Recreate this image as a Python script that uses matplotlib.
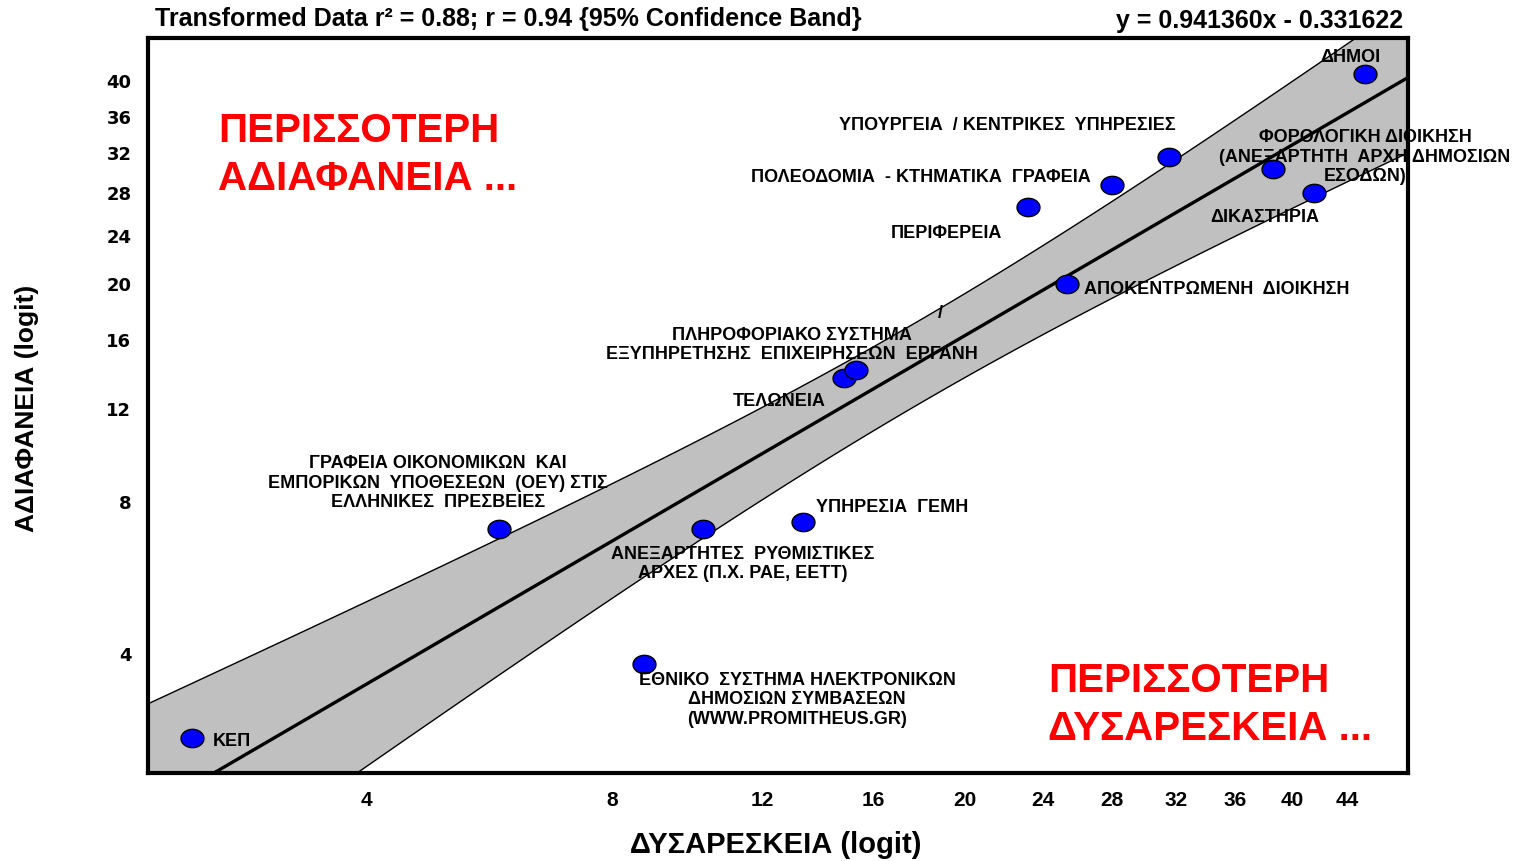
import numpy as np
import matplotlib
matplotlib.use("Agg")
import matplotlib.pyplot as plt
from matplotlib.path import Path
from matplotlib.ticker import FixedLocator, FixedFormatter, NullLocator
from matplotlib import font_manager as fm

# ---------------- data (percent) ----------------
labels = ["ΚΕΠ", "ΟΕΥ", "ΕΣΗΔΗΣ", "ΑΝΕΞ. ΑΡΧΕΣ", "ΓΕΜΗ", "ΤΕΛΩΝΕΙΑ", "ΕΡΓΑΝΗ",
          "ΠΕΡΙΦΕΡΕΙΑ", "ΑΠΟΚΕΝΤΡΩΜΕΝΗ", "ΠΟΛΕΟΔΟΜΙΑ", "ΥΠΟΥΡΓΕΙΑ",
          "ΦΟΡΟΛΟΓΙΚΗ", "ΔΙΚΑΣΤΗΡΙΑ", "ΔΗΜΟΙ"]
dissatisfaction_pct = [2.41, 5.83, 8.74, 10.26, 13.35, 14.84, 15.30,
                       23.22, 25.37, 28.00, 31.56, 38.65, 41.58, 45.34]
opacity_pct = [2.70, 7.09, 3.82, 7.09, 7.32, 13.69, 14.15,
               26.64, 20.00, 28.76, 31.63, 30.39, 27.97, 40.88]
x_tick_pct = [4, 8, 12, 16, 20, 24, 28, 32, 36, 40, 44]
y_tick_pct = [4, 8, 12, 16, 20, 24, 28, 32, 36, 40]
slope = 0.941360
intercept = -0.331622
r_squared = 0.88
r_value = 0.94
t_crit = 2.179  # t(0.975, df = n - 2 = 12)

# ---------------- fonts ----------------
def has_font(name):
    try:
        fm.findfont(fm.FontProperties(family=name), fallback_to_default=False)
        return True
    except Exception:
        return False

NARROW = "Liberation Sans Narrow" if has_font("Liberation Sans Narrow") else "Liberation Sans"
SANS = "Liberation Sans"

plt.rcParams["font.family"] = [SANS, "DejaVu Sans"]

W, H = 1524, 861
fig = plt.figure(figsize=(W / 100, H / 100), dpi=100)
ax = fig.add_axes([148 / W, 1 - 773 / H, (1408 - 148) / W, (773 - 38) / H])

x = np.array(dissatisfaction_pct) / 100.0
y = np.array(opacity_pct) / 100.0

def logit(p):
    return np.log(p / (1 - p))

def expit(z):
    return 1 / (1 + np.exp(-z))

xlim = (0.0212, 0.4855)
ylim = (0.0229, 0.4514)

# regression line and 95% confidence band (in logit space)
lx = logit(x)
ly = logit(y)
n = len(lx)
resid = ly - (slope * lx + intercept)
s = np.sqrt(np.sum(resid ** 2) / (n - 2))
xbar = lx.mean()
sxx = np.sum((lx - xbar) ** 2)

gx = np.linspace(logit(xlim[0]) - 0.2, logit(xlim[1]) + 0.2, 400)
gy = slope * gx + intercept
half = t_crit * s * np.sqrt(1 / n + (gx - xbar) ** 2 / sxx)

ax.set_xscale("logit")
ax.set_yscale("logit")

ax.fill_between(expit(gx), expit(gy - half), expit(gy + half),
                facecolor="#c0c0c0", edgecolor="black", linewidth=1.0, zorder=1)
ax.plot(expit(gx), expit(gy), color="black", lw=2.4, zorder=2)

# ellipse marker
th = np.linspace(0, 2 * np.pi, 60)
ell = Path(np.column_stack([np.cos(th), 0.8 * np.sin(th)]), closed=True)
ax.plot(x, y, linestyle="none", marker=ell, markersize=16.5,
        markerfacecolor="#0000ff", markeredgecolor="black", markeredgewidth=1.0, zorder=3)

ax.set_xlim(*xlim)
ax.set_ylim(*ylim)
ax.xaxis.set_major_locator(FixedLocator([v / 100 for v in x_tick_pct]))
ax.xaxis.set_major_formatter(FixedFormatter([str(v) for v in x_tick_pct]))
ax.yaxis.set_major_locator(FixedLocator([v / 100 for v in y_tick_pct]))
ax.yaxis.set_major_formatter(FixedFormatter([str(v) for v in y_tick_pct]))
ax.xaxis.set_minor_locator(NullLocator())
ax.yaxis.set_minor_locator(NullLocator())
ax.tick_params(axis="both", length=0)
ax.tick_params(axis="x", pad=13)
ax.tick_params(axis="y", pad=12)
for lab in ax.get_xticklabels():
    lab.set_fontfamily(NARROW)
    lab.set_fontweight("bold")
    lab.set_fontsize(15)
for lab in ax.get_yticklabels():
    lab.set_fontfamily("DejaVu Sans")
    lab.set_fontweight("bold")
    lab.set_fontsize(13)
for sp in ax.spines.values():
    sp.set_linewidth(3)
    sp.set_color("black")
ax.set_facecolor("white")

# axis labels
fig.text(776 / W, 1 - 845 / H, "ΔΥΣΑΡΕΣΚΕΙΑ (logit)", ha="center", va="center",
         fontsize=21, fontweight="bold", family=[SANS])
fig.text(27 / W, 1 - 408 / H, "ΑΔΙΑΦΑΝΕΙΑ (logit)", ha="center", va="center",
         rotation=90, fontsize=19, fontweight="bold", family=[SANS])

# titles
fig.text(155 / W, 1 - 19 / H,
         f"Transformed Data r² = {r_squared:.2f}; r = {r_value:.2f} {{95% Confidence Band}}",
         ha="left", va="center", fontsize=18, fontweight="bold", family=[SANS])
fig.text(1403 / W, 1 - 21 / H, f"y = {slope:.6f}x - {abs(intercept):.6f}",
         ha="right", va="center", fontsize=18, fontweight="bold", family=[SANS])

# red annotations
red_fs = 33 if NARROW != SANS else 29
fig.text(218 / W, 1 - 155 / H, "ΠΕΡΙΣΣΟΤΕΡΗ\nΑΔΙΑΦΑΝΕΙΑ ...", ha="left", va="center",
         color="#ff0000", fontsize=red_fs, fontweight="bold", family=[NARROW],
         linespacing=1.3)
fig.text(1048 / W, 1 - 705 / H, "ΠΕΡΙΣΣΟΤΕΡΗ\nΔΥΣΑΡΕΣΚΕΙΑ ...", ha="left", va="center",
         color="#ff0000", fontsize=red_fs, fontweight="bold", family=[NARROW],
         linespacing=1.3)

# point labels (pixel positions of label anchors)
lab_fs = 13
def ptext(px, py, s, ha="center"):
    fig.text(px / W, 1 - (py + 2) / H, s, ha=ha, va="center", fontsize=lab_fs,
             fontweight="bold", family=[SANS], linespacing=1.2, zorder=5)

ptext(213, 740, "ΚΕΠ", ha="left")
ptext(438, 481, "ΓΡΑΦΕΙΑ ΟΙΚΟΝΟΜΙΚΩΝ  ΚΑΙ\nΕΜΠΟΡΙΚΩΝ  ΥΠΟΘΕΣΕΩΝ  (ΟΕΥ) ΣΤΙΣ\nΕΛΛΗΝΙΚΕΣ  ΠΡΕΣΒΕΙΕΣ")
ptext(797, 698, "ΕΘΝΙΚΟ  ΣΥΣΤΗΜΑ ΗΛΕΚΤΡΟΝΙΚΩΝ\nΔΗΜΟΣΙΩΝ ΣΥΜΒΑΣΕΩΝ\n(WWW.PROMITHEUS.GR)")
ptext(743, 562, "ΑΝΕΞΑΡΤΗΤΕΣ  ΡΥΘΜΙΣΤΙΚΕΣ\nΑΡΧΕΣ (Π.Χ. ΡΑΕ, ΕΕΤΤ)")
ptext(816, 505, "ΥΠΗΡΕΣΙΑ  ΓΕΜΗ", ha="left")
ptext(779, 400, "ΤΕΛΩΝΕΙΑ")
ptext(792, 343, "ΠΛΗΡΟΦΟΡΙΑΚΟ ΣΥΣΤΗΜΑ\nΕΞΥΠΗΡΕΤΗΣΗΣ  ΕΠΙΧΕΙΡΗΣΕΩΝ  ΕΡΓΑΝΗ")
ptext(940, 312, "/")
ptext(946, 232, "ΠΕΡΙΦΕΡΕΙΑ")
ptext(921, 175, "ΠΟΛΕΟΔΟΜΙΑ  - ΚΤΗΜΑΤΙΚΑ  ΓΡΑΦΕΙΑ")
ptext(1007, 124, "ΥΠΟΥΡΓΕΙΑ  / ΚΕΝΤΡΙΚΕΣ  ΥΠΗΡΕΣΙΕΣ")
ptext(1084, 287, "ΑΠΟΚΕΝΤΡΩΜΕΝΗ  ΔΙΟΙΚΗΣΗ", ha="left")
ptext(1365, 155, "ΦΟΡΟΛΟΓΙΚΗ ΔΙΟΙΚΗΣΗ\n(ΑΝΕΞΑΡΤΗΤΗ  ΑΡΧΗ ΔΗΜΟΣΙΩΝ\nΕΣΟΔΩΝ)")
ptext(1265, 216, "ΔΙΚΑΣΤΗΡΙΑ")
ptext(1350, 56, "ΔΗΜΟΙ")

fig.savefig("out.png", dpi=100, facecolor="white")
